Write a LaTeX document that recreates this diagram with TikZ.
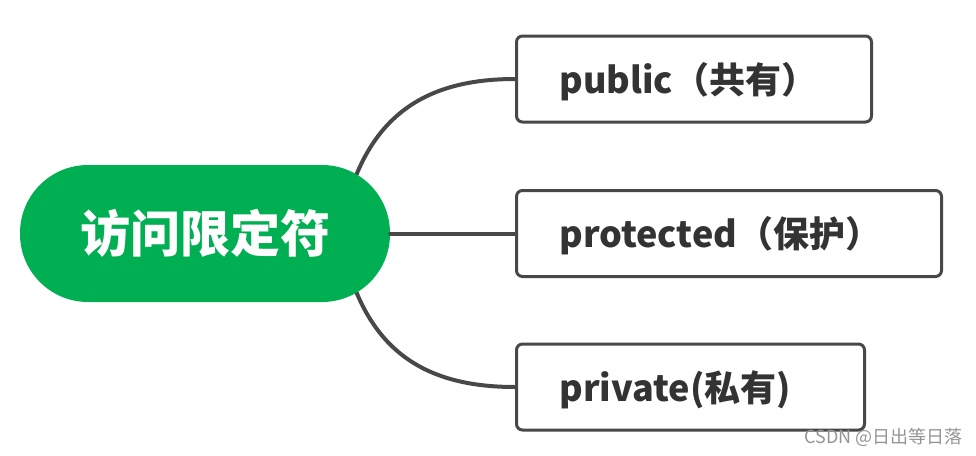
\documentclass[tikz,border=0pt]{standalone}
\usepackage{fontspec}
\setmainfont{Noto Sans CJK SC}
\usetikzlibrary{backgrounds}
\definecolor{rootgreen}{HTML}{00AF52}
\definecolor{linegray}{HTML}{484848}
\definecolor{textgray}{HTML}{333333}
\begin{document}
\begin{tikzpicture}[x=1pt,y=-1pt,line join=round,line cap=round]
	\tikzset{root/.style={fill=rootgreen,rounded corners=68pt,minimum width=370pt,minimum height=137pt,inner sep=0pt,text=white,font=\fontsize{50}{50}\selectfont\bfseries},
		leaf/.style={draw=linegray,line width=3pt,rounded corners=6pt,fill=white,minimum height=86pt,inner xsep=43pt,inner ysep=0pt,text height=32pt,text depth=4pt,align=left,anchor=west,text=textgray,font=\fontsize{36}{36}\selectfont\bfseries},
		branch/.style={draw=linegray,line width=4pt}}
	\useasboundingbox (0,0) rectangle (976,455);
	\node[root] (acc) at (205,233.5) {访问限定符};
	\node[leaf,text width=269pt] (pub) at (515,79) {public（共有）};
	\node[leaf,text width=339pt] (pro) at (515,233.5) {protected（保护）};
	\node[leaf,text width=262pt] (pri) at (515,387) {private(私有)};
	\coordinate (hub) at (340,233.5);
	\begin{pgfonlayer}{background}
		\draw[branch] (hub) .. controls (360,120) and (420,79) .. (pub.west);
		\draw[branch] (hub) .. controls (360,347) and (420,387) .. (pri.west);
	\end{pgfonlayer}
	\draw[branch] (acc.east) -- (pro.west);
	\node[anchor=base east,inner sep=0pt,text=black!42,font=\fontsize{18}{18}\selectfont] (mark) at (963,443) {CSDN @日出等日落};
\end{tikzpicture}
\end{document}
